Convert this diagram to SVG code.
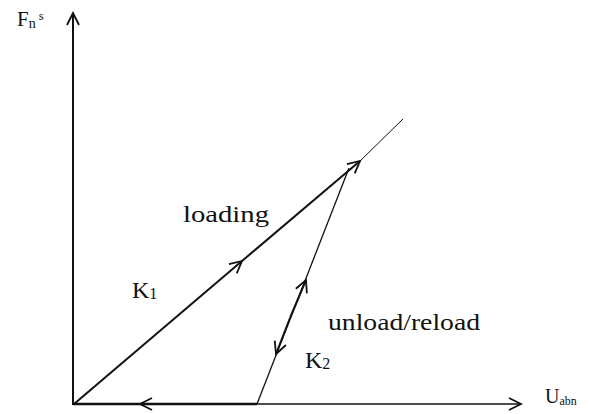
<svg xmlns="http://www.w3.org/2000/svg" width="589" height="414" viewBox="0 0 589 414">
<style>
.t{font-family:"Liberation Serif","Times New Roman",serif;fill:#111}
.ln{fill:none;stroke:#111;stroke-linecap:butt}
</style>
<defs>
<marker id="ch" viewBox="-14 -8 16 16" markerWidth="16" markerHeight="16" refX="0" refY="0" orient="auto" markerUnits="userSpaceOnUse">
<path d="M-12,-6 L0,0 L-12,6" fill="none" stroke="#111" stroke-width="1.8"/>
</marker>
</defs>
<rect width="589" height="414" fill="#fff"/>
<g id="connectors">
<path id="y-axis" class="ln" stroke-width="2" d="M73,405 L73,13" marker-end="url(#ch)"/>
<path id="x-axis" class="ln" stroke-width="1.6" d="M73,404 L521,404" marker-end="url(#ch)"/>
<path id="loading1" class="ln" stroke-width="2" d="M74,404 L242,261" marker-end="url(#ch)"/>
<path id="loading2" class="ln" stroke-width="2" d="M242,261 L360,161" marker-end="url(#ch)"/>
<path id="loading-ext" class="ln" stroke="#555" stroke-width="1" d="M360,161 L403,119"/>
<path id="unload" class="ln" stroke-width="1.3" d="M257,404 L349,168"/>
<path id="reload-arrow" class="ln" stroke-width="2" d="M290,318 L306,280" marker-end="url(#ch)"/>
<path id="unload-arrow" class="ln" stroke-width="2" d="M290,318 L276,354" marker-end="url(#ch)"/>
<path id="bottom1" class="ln" stroke-width="2.6" d="M257,404 L140,404" marker-end="url(#ch)"/>
<path id="bottom2" class="ln" stroke-width="2.6" d="M140,404 L73,404"/>
</g>
<g id="label-F">
<text class="t" x="17" y="26" font-size="21">F<tspan font-size="14" dy="2">n</tspan><tspan font-size="13" dx="3" dy="-8">s</tspan></text>
</g>
<g id="label-U">
<text class="t" x="545" y="403" font-size="20">U<tspan font-size="12" dy="2">abn</tspan></text>
</g>
<g id="label-loading">
<text class="t" x="183" y="222" font-size="23" textLength="86" lengthAdjust="spacingAndGlyphs">loading</text>
</g>
<g id="label-K1">
<text class="t" x="132" y="298" font-size="24">K<tspan font-size="16" dy="1">1</tspan></text>
</g>
<g id="label-unload">
<text class="t" x="328" y="330" font-size="23" textLength="152" lengthAdjust="spacingAndGlyphs">unload/reload</text>
</g>
<g id="label-K2">
<text class="t" x="305" y="368" font-size="24">K<tspan font-size="16" dy="1">2</tspan></text>
</g>
</svg>
